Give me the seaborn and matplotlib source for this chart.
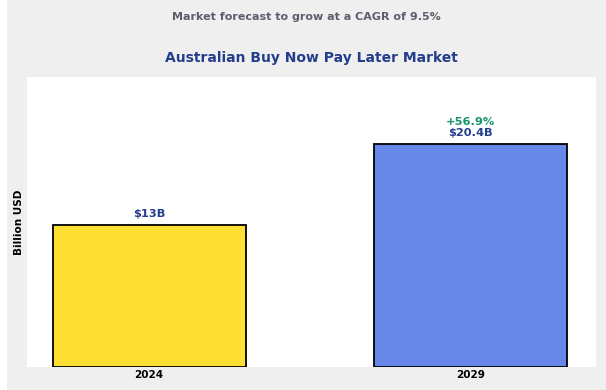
import matplotlib
matplotlib.use("Agg")
import matplotlib.pyplot as plt
import seaborn as sns
import pandas as pd
from matplotlib.patches import Rectangle

# data
years = ["2024", "2029"]
values = [13.0, 20.4]
value_labels = ["$13B", "$20.4B"]
growth_label = "+56.9%"
bar_colors = ["#FFDF33", "#6788E8"]

df = pd.DataFrame({"Year": years, "Value": values})

sns.set_style("white")
plt.rcParams["font.family"] = ["DejaVu Sans"]

fig = plt.figure(figsize=(6.06, 3.9), dpi=100, facecolor="#EFEFEF")
fig.patches.append(Rectangle((0, 0), 7 / 606, 1, transform=fig.transFigure,
                             facecolor="white", edgecolor="none", zorder=0))
ax = fig.add_axes([27 / 606, 1 - 367 / 390, 569 / 606, 290 / 390])
ax.set_facecolor("white")

sns.barplot(data=df, x="Year", y="Value", hue="Year", palette=bar_colors,
            legend=False, width=0.6, edgecolor="black", linewidth=1.3,
            saturation=1, ax=ax)

ax.set_ylim(0, max(values) * 1.3)
ax.set_xlim(-0.38, 1.39)
ax.set_yticks([])
ax.set_xlabel("")
ax.set_ylabel("Billion USD", fontsize=7.5, fontweight="bold", color="black", labelpad=2)
for s in ax.spines.values():
    s.set_visible(False)
ax.tick_params(axis="x", length=0, pad=2, colors="black")
for t in ax.get_xticklabels():
    t.set_fontweight("bold")
    t.set_fontsize(7.5)

for i, (v, lab) in enumerate(zip(values, value_labels)):
    ax.annotate(lab, (i, v), xytext=(0, 4), textcoords="offset points",
                ha="center", va="bottom", fontsize=8.2, fontweight="bold",
                color="#233E8B")
ax.annotate(growth_label, (1, values[1]), xytext=(0, 12), textcoords="offset points",
            ha="center", va="bottom", fontsize=8.2, fontweight="bold", color="#17956A")

fig.text(306 / 606, 1 - 17 / 390, "Market forecast to grow at a CAGR of 9.5%",
         ha="center", va="center", fontsize=8, fontweight="bold", color="#5A5F6B")
fig.text(311 / 606, 1 - 58 / 390, "Australian Buy Now Pay Later Market",
         ha="center", va="center", fontsize=10, fontweight="bold", color="#233E8B")

fig.savefig("out.png", dpi=100, facecolor=fig.get_facecolor())
